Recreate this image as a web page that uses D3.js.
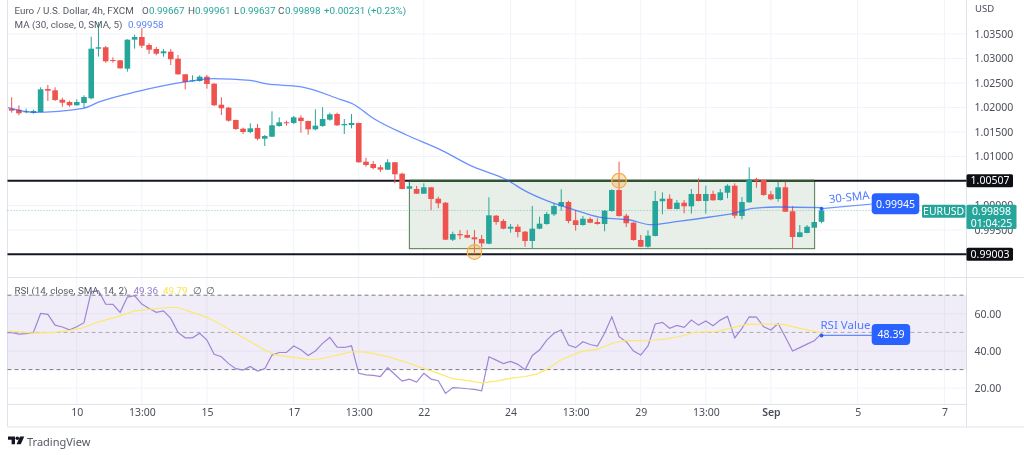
<!DOCTYPE html>
<html><head><meta charset="utf-8">
<script src="https://cdn.jsdelivr.net/npm/d3@7"></script>
<style>
html,body{margin:0;padding:0;background:#fff;width:1024px;height:455px;overflow:hidden}
svg{display:block;filter:blur(.3px)}
text{font-family:"Noto Sans",Roboto,sans-serif}
text.lg{font-family:Roboto,"Noto Sans",sans-serif}
.axis path,.axis line{display:none}
</style></head><body><svg id="c" width="1024" height="455"></svg>
<script>
const opens=[1.01976,1.01955,1.01902,1.01888,1.01908,1.02378,1.02351,1.02159,1.02112,1.02045,
1.02092,1.02188,1.032,1.03229,1.02969,1.02963,1.02792,1.03384,1.03439,1.03276,
1.03194,1.03106,1.03139,1.02996,1.02678,1.02535,1.02541,1.02629,1.02486,1.02057,
1.01996,1.01745,1.01567,1.015,1.01582,1.01363,1.01404,1.01622,1.01698,1.01684,
1.01792,1.01724,1.01555,1.01622,1.01751,1.01867,1.01637,1.01643,1.01684,1.00894,
1.00847,1.0078,1.00731,1.00882,1.00649,1.00343,1.00337,1.00241,1.00371,1.00139,
1.00057,.99302,.99418,.99398,.99351,.99316,.9922,.99792,.99684,.99527,
.99567,.99466,.99276,.99527,.99622,.9982,.99984,1.00071,.99698,.99602,
.99724,.99663,.99622,.99888,1.00316,.99792,.99649,.99296,.99159,.99378,
1.00086,1.00139,.99929,1.00057,.99984,1.00235,1.00092,1.00235,1.00112,1.00261,
1.00404,.99786,1.00065,1.00541,1.0052,1.00228,1.00133,1.00371,.99882,.99357,
.99439,.99547,.99667];
const highs=[1.02208,1.02045,1.01976,1.01955,1.02412,1.02459,1.02412,1.022,1.02139,1.02167,
1.02249,1.03445,1.03745,1.03255,1.03024,1.02969,1.03392,1.03486,1.03622,1.0331,
1.03235,1.03194,1.03194,1.03071,1.02684,1.02657,1.02657,1.02663,1.025,1.02208,
1.0201,1.01751,1.01588,1.01677,1.01663,1.01439,1.01922,1.018,1.01731,1.01827,
1.01841,1.01731,1.01963,1.02004,1.01894,1.01894,1.01765,1.01867,1.0169,1.00976,
1.00908,1.00827,1.00943,1.00888,1.0067,1.00486,1.00398,1.00453,1.00378,1.0018,
1.00071,.99466,.995,.995,.995,.99398,1.00167,.99806,.99724,.99622,
.99616,.9948,.9999,.99771,.99873,1.00045,1.00331,1.00098,.99908,.99786,
.99759,.99739,.99908,1.00331,1.00894,.99833,.99663,.99398,.99494,1.00296,
1.00269,1.00228,1.00112,1.00112,1.00337,1.00555,1.00404,1.00302,1.00337,1.00432,
1.00453,1.00173,1.0078,1.00567,1.00526,1.00296,1.00486,1.00486,.99984,.99602,
.99602,.99673,.99961];
const lows=[1.01894,1.01841,1.01882,1.01873,1.01902,1.02133,1.02133,1.02016,1.02016,1.02037,
1.0199,1.02167,1.03037,1.02914,1.02914,1.02792,1.02731,1.032,1.03214,1.03092,
1.03065,1.03037,1.02867,1.02669,1.02371,1.02527,1.02527,1.02384,1.02031,1.01847,
1.0171,1.01541,1.01459,1.01473,1.0133,1.01214,1.01398,1.01608,1.01629,1.01663,
1.01486,1.01445,1.01535,1.01608,1.01731,1.01622,1.01459,1.01575,1.00873,1.00792,
1.00739,1.00684,1.00724,1.00453,1.00331,1.00337,1.00235,1.00235,.99908,.99943,
.99296,.99276,.9931,.99331,.9901,.99147,.99208,.99608,.99514,.99445,
.99351,.99159,.99133,.99514,.99608,.99786,.99894,.99637,.99486,.99588,
.99637,.99608,.99473,.99873,.99771,.99561,.99282,.99153,.99139,.99371,
.9982,.99922,.99922,.99841,.99833,1.00086,.99833,1.00098,1.00098,1.00147,
.99739,.99718,1.00057,1.00363,1.002,1.00106,1.00078,.99867,.99112,.99351,
.99433,.99541,.99637];
const closes=[1.01935,1.01882,1.01922,1.01929,1.02371,1.02343,1.02153,1.02098,1.02045,1.02112,
1.02214,1.032,1.03229,1.02943,1.02949,1.028,1.03384,1.03439,1.03261,1.0318,
1.03098,1.03147,1.02984,1.02678,1.0252,1.02555,1.02629,1.02479,1.02045,1.01984,
1.01731,1.01561,1.015,1.01575,1.01363,1.01418,1.01637,1.01698,1.01677,1.018,
1.01724,1.01555,1.01629,1.01765,1.01861,1.01637,1.01663,1.01684,1.00882,1.00827,
1.00765,1.00731,1.00882,1.00637,1.00337,1.00392,1.00241,1.00371,1.00133,1.00045,
.99302,.99418,.99392,.99343,.9931,.99228,.998,.99663,.99527,.99567,
.99459,.99276,.99527,.99629,.99827,.9999,1.00071,.99684,.99602,.99731,
.99649,.99622,.99894,1.00316,.99786,.99637,.99296,.99159,.99384,1.00092,
1.00139,.99929,1.00057,.99984,1.00235,1.00092,1.00235,1.00106,1.00269,1.00404,
.99792,1.00071,1.00535,1.00506,1.00214,1.00127,1.00371,.99873,.99357,.99453,
.99567,.99663,.99898];
const maIndex=[-0.5,3,9.9,12.2,17.3,24.2,27.8,33,35.3,39.9,45.4,47.2,50,54.6,59.2,63.8,68.5,71.2,74,77.6,81.4,84.1,85.5,88.3,91.9,96.6,99.8,102.5,105.8,112];
const maValues=[1.01996,1.01902,1.01984,1.02119,1.02323,1.02527,1.02588,1.02555,1.0248,1.02425,1.02167,1.02071,1.0178,1.01439,1.01147,1.00792,1.0052,1.00282,1.00098,.99922,.99759,.99724,.99704,.99608,.99669,.99765,.99841,.99943,.99969,.99958];
const rsiValues=[49.8,49.1,49.3,50,60.2,59.7,53.9,52.9,51.4,53,55.2,71.9,72.4,65.2,65.1,60.8,69,69.7,65.2,62.9,60.8,61.6,57.5,50,47.1,47.1,49.5,45.9,38.2,36.9,33.2,30.5,29.7,31.7,29.2,30.5,37.8,39.2,39.2,42.7,40.7,37.6,40,44.1,47.3,42.1,
41.9,42.8,28,27.2,26.9,26.3,31,27.4,23.8,24.9,23.3,28,24.9,24,17.2,20.3,20.1,19.7,19.4,18.6,36.9,35.1,33.2,34.4,32.8,29.9,37.6,40.5,45.9,49.5,51.3,43.2,41.8,45,43.5,42.7,49.5,58.4,47.7,45,40,37.8,42.7,54.5,55.4,52.2,53.8,
52.7,56.6,53.9,56.1,53.6,56.6,58.6,47,52.2,58.4,58.2,53,51.3,54.8,47.5,40,41.8,43.7,45.5,49.36];
const rsiMaIndex=[-0.5,.7,3,6,8,9.9,12,14.5,17,18.9,21.9,23,25.1,27,29,31,33,35,36.6,39,41.2,42.6,44.5,45.4,47,48.9,51.9,54,56.9,59,61,62.9,65,67,68.9,71,72.6,74,76,78.8,80.9,83.2,85,87.8,90.3,92.4,94.7,97.5,99.3,101.6,103.9,106.7,109,112];
const rsiMaValues=[50.9,50.4,49.6,50,51.1,52.5,55.7,58.2,61.6,62.4,63.4,63.4,60.6,58.1,54.1,49.5,45,40.5,37.8,36.6,35.3,35.7,37.3,38.2,39.6,39.4,37.1,34.6,30.8,28,25.1,24.2,22.9,23.8,25.3,26.3,27.6,30.1,35.3,39.8,40.9,44.3,45.7,45.5,46.4,47.8,50.2,50.4,52.2,54.3,54.5,54.3,52.2,49.79];
const priceGrid=[1.035,1.03,1.025,1.02,1.015,1.01,1.005,1.0,.995];
const priceTicks=[1.035,1.03,1.025,1.02,1.015,1.01,1.0,.995];
const rsiTicks=[60,40,20];
const rsiBands=[70,50,30];
const timeTickIndex=[9,18,27,39,48,57,69,78,87,96,105,117,129];
const timeTickLabels=["10","13:00","15","17","13:00","22","24","13:00","29","13:00","Sep","5","7"];
const keyLevels=[1.00507,.99003];
const rangeBox={fromIndex:55,toIndex:111.05,top:1.00507,bottom:.99119};
const touchIndex=[84,64];
const touchPrice=[1.00507,.99051];
const lastClose=.99898, smaLabel=.99945, rsiLabel=48.39, lastIndex=112;

const GREEN="#26a69a",RED="#ef5350",BLUE="#2962ff",GRID="#f0f3fa",FRAME="#e0e3eb",TXT="#4a4e59";
const L=7.5,R=966.5;
const x=d3.scaleLinear().domain([0,112]).range([11.7,821.5]);
const y=d3.scaleLinear().domain([1.035,.99]).range([34,254.5]);
const yr=d3.scaleLinear().domain([50,20]).range([332.4,388.2]);
const svg=d3.select("#c");
const defs=svg.append("defs");
defs.append("clipPath").attr("id","main").append("rect").attr("x",L).attr("y",0).attr("width",R-L).attr("height",277);
defs.append("clipPath").attr("id","sub").append("rect").attr("x",L).attr("y",278).attr("width",R-L).attr("height",126);

// grid
const grid=svg.append("g").attr("stroke",GRID).attr("stroke-width",1);
grid.selectAll("line.v").data(timeTickIndex).join("line").attr("x1",d=>x(d)).attr("x2",d=>x(d)).attr("y1",0).attr("y2",404);
grid.selectAll("line.h").data(priceGrid).join("line").attr("x1",L).attr("x2",R).attr("y1",d=>y(d)).attr("y2",d=>y(d));
grid.selectAll("line.r").data(rsiTicks).join("line").attr("x1",L).attr("x2",R).attr("y1",d=>yr(d)).attr("y2",d=>yr(d));

// frame
const frame=svg.append("g").attr("stroke",FRAME).attr("stroke-width",1);
[[L,0,L,427],[R,0,R,427],[L,277.5,1024,277.5],[L,404.5,R,404.5],[L,427,1024,427]].forEach(a=>frame.append("line").attr("x1",a[0]).attr("y1",a[1]).attr("x2",a[2]).attr("y2",a[3]));

// rsi band
svg.append("rect").attr("x",L).attr("width",R-L).attr("y",yr(70)).attr("height",yr(30)-yr(70)).attr("fill","#7e57c2").attr("fill-opacity",.11);
svg.append("g").selectAll("line").data(rsiBands).join("line")
 .attr("x1",L).attr("x2",R).attr("y1",d=>yr(d)).attr("y2",d=>yr(d))
 .attr("stroke","#787b86").attr("stroke-width",1).attr("stroke-opacity",d=>d===50?.6:1).attr("stroke-dasharray","4 3");

// range box
svg.append("rect").attr("x",x(rangeBox.fromIndex)).attr("width",x(rangeBox.toIndex)-x(rangeBox.fromIndex))
 .attr("y",y(rangeBox.top)).attr("height",y(rangeBox.bottom)-y(rangeBox.top))
 .attr("fill","#e8efe8").attr("stroke","#4f7a4f").attr("stroke-width",1);

// current price dotted
svg.append("line").attr("x1",L).attr("x2",R).attr("y1",y(lastClose)).attr("y2",y(lastClose)).attr("stroke",GREEN).attr("stroke-opacity",.55).attr("stroke-dasharray","1 2");

// key levels
svg.append("g").selectAll("line").data(keyLevels).join("line").attr("x1",L).attr("x2",R).attr("y1",d=>y(d)).attr("y2",d=>y(d)).attr("stroke","#131722").attr("stroke-width",2);
svg.append("line").attr("x1",x(rangeBox.fromIndex)).attr("x2",x(rangeBox.toIndex)).attr("y1",y(rangeBox.top)).attr("y2",y(rangeBox.top)).attr("stroke","#2f5530").attr("stroke-width",2);

// candles
const cg=svg.append("g").attr("clip-path","url(#main)");
const idx=d3.range(opens.length);
const col=i=>closes[i]>=opens[i]?GREEN:RED;
cg.selectAll("line.w").data(idx).join("line").attr("x1",i=>x(i)).attr("x2",i=>x(i)).attr("y1",i=>y(highs[i])).attr("y2",i=>y(lows[i])).attr("stroke",col).attr("stroke-width",1);
cg.selectAll("rect.b").data(idx).join("rect").attr("x",i=>x(i)-2.8).attr("width",5.6)
 .attr("y",i=>y(Math.max(opens[i],closes[i]))).attr("height",i=>Math.max(1,Math.abs(y(opens[i])-y(closes[i])))).attr("fill",col);

// MA
const lineMain=d3.line().x(d=>x(d[0])).y(d=>y(d[1])).curve(d3.curveMonotoneX);
svg.append("path").attr("clip-path","url(#main)").attr("d",lineMain(maIndex.map((d,i)=>[d,maValues[i]]))).attr("fill","none").attr("stroke",BLUE).attr("stroke-opacity",.7).attr("stroke-width",1.3);

// touches
svg.append("g").selectAll("circle").data(touchIndex).join("circle").attr("cx",d=>x(d)).attr("cy",(d,i)=>y(touchPrice[i])).attr("r",7.3)
 .attr("fill","#f5a623").attr("fill-opacity",.3).attr("stroke","#f2b04a").attr("stroke-width",1.2);

// SMA annotation
svg.append("line").attr("x1",x(lastIndex)).attr("x2",872).attr("y1",y(smaLabel)+0.5).attr("y2",204).attr("stroke",BLUE).attr("stroke-opacity",.7).attr("stroke-width",1.2);
svg.append("circle").attr("cx",x(lastIndex)).attr("cy",y(smaLabel)+0.5).attr("r",2).attr("fill",BLUE);
svg.append("text").attr("transform","translate(849.5,201) rotate(-6)").attr("text-anchor","middle").attr("font-size",11.5).attr("fill","#4f7bff").text("30-SMA");
svg.append("rect").attr("x",871.7).attr("y",193.3).attr("width",47.6).attr("height",21).attr("rx",4).attr("fill",BLUE);
svg.append("text").attr("x",895.5).attr("y",207.8).attr("text-anchor","middle").attr("font-size",10.5).attr("fill","#fff").text(smaLabel.toFixed(5));

// RSI
const sub=svg.append("g").attr("clip-path","url(#sub)");
const lineSub=d3.line().x(d=>x(d[0])).y(d=>yr(d[1]));
sub.append("path").attr("d",lineSub([[-1,49.9]].concat(rsiValues.map((d,i)=>[i,d])))).attr("fill","none").attr("stroke","#9f86d6").attr("stroke-width",1.2);
sub.append("path").attr("d",lineSub(rsiMaIndex.map((d,i)=>[d,rsiMaValues[i]]))).attr("fill","none").attr("stroke","#fbe96f").attr("stroke-width",1.2);
svg.append("line").attr("x1",x(lastIndex)).attr("x2",872).attr("y1",yr(rsiLabel)).attr("y2",yr(rsiLabel)).attr("stroke",BLUE).attr("stroke-opacity",.7).attr("stroke-width",1.2);
svg.append("circle").attr("cx",x(lastIndex)).attr("cy",yr(rsiLabel)).attr("r",2).attr("fill",BLUE);
svg.append("text").attr("x",845.5).attr("y",329).attr("text-anchor","middle").attr("font-size",11.5).attr("fill","#4f7bff").text("RSI Value");
svg.append("rect").attr("x",871.7).attr("y",324).attr("width",38.5).attr("height",21).attr("rx",4).attr("fill",BLUE);
svg.append("text").attr("x",891).attr("y",338.4).attr("text-anchor","middle").attr("font-size",10.5).attr("fill","#fff").text(rsiLabel.toFixed(2));

// axes
const axP=svg.append("g").attr("class","axis").attr("transform",`translate(${R},0)`).call(d3.axisRight(y).tickValues(priceTicks).tickFormat(d=>d.toFixed(5)).tickSize(0).tickPadding(8));
axP.selectAll("text").attr("font-size",10.5).attr("fill",TXT);
const axR=svg.append("g").attr("class","axis").attr("transform",`translate(${R},0)`).call(d3.axisRight(yr).tickValues(rsiTicks).tickFormat(d=>d.toFixed(2)).tickSize(0).tickPadding(8));
axR.selectAll("text").attr("font-size",10.5).attr("fill",TXT);
const axT=svg.append("g").attr("class","axis").attr("transform","translate(0,404)").call(d3.axisBottom(x).tickValues(timeTickIndex).tickFormat((d,i)=>timeTickLabels[i]).tickSize(0).tickPadding(5));
axT.selectAll("text").attr("font-size",10.5).attr("fill",TXT).attr("font-weight",d=>d===105?600:400);
svg.append("text").attr("x",975).attr("y",12).attr("font-size",9.5).attr("fill",TXT).text("USD");

// right tags
function tag(x0,y0,w,h,fill,lines,cx,size){
 svg.append("rect").attr("x",x0).attr("y",y0).attr("width",w).attr("height",h).attr("fill",fill).attr("rx",1.5);
 lines.forEach(l=>svg.append("text").attr("x",cx).attr("y",l[1]).attr("text-anchor","middle").attr("font-size",size).attr("fill","#fff").text(l[0]));
}
keyLevels.forEach(v=>tag(R,y(v)-6.5,46.5,13,"#0d0f14",[[v.toFixed(5),y(v)+3.8]],990,10.5));
tag(922,204.7,43.5,13,GREEN,[["EURUSD",215]],943.7,10.5);
tag(R,204.7,50,24.4,GREEN,[[lastClose.toFixed(5),215],["01:04:25",226.5]],991.5,10.5);

// legends
function seq(yy,parts){parts.forEach(p=>svg.append("text").attr("class","lg").attr("x",p[0]).attr("y",yy).attr("font-size",9.8).attr("fill",p[2]).text(p[1]));}
const VAL="#26a69a",LG="#555963";
seq(13.5,[[14.5,"Euro / U.S. Dollar, 4h, FXCM",LG],[142,"O",LG],[149,opens[112].toFixed(5),VAL],[188,"H",LG],[195,highs[112].toFixed(5),VAL],[234,"L",LG],[240,lows[112].toFixed(5),VAL],[278,"C",LG],[285,lastClose.toFixed(5),VAL],[324,"+0.00231 (+0.23%)",VAL]]);
seq(27.5,[[14.5,"MA (30, close, 0, SMA, 5)",LG],[128,maValues[maValues.length-1].toFixed(5),"#5b83f5"]]);
seq(294,[[14.5,"RSI (14, close, SMA, 14, 2)",LG],[133.5,rsiValues[rsiValues.length-1].toFixed(2),"#9575cd"],[163,rsiMaValues[rsiMaValues.length-1].toFixed(2),"#fbe24f"],[193,"∅",LG],[206,"∅",LG]]);

// logo
const logo=svg.append("g").attr("transform","translate(8,436.5)").attr("fill","#131722");
logo.append("path").attr("d","M0 0H7V7.8H3.6V3.3H0Z");
logo.append("circle").attr("cx",9.3).attr("cy",1.8).attr("r",1.8);
logo.append("path").attr("d","M12 0H16.2L12.8 7.8H8.6Z");
svg.append("text").attr("x",27).attr("y",445.5).attr("font-size",11).attr("fill",LG).text("TradingView");
</script></body></html>
